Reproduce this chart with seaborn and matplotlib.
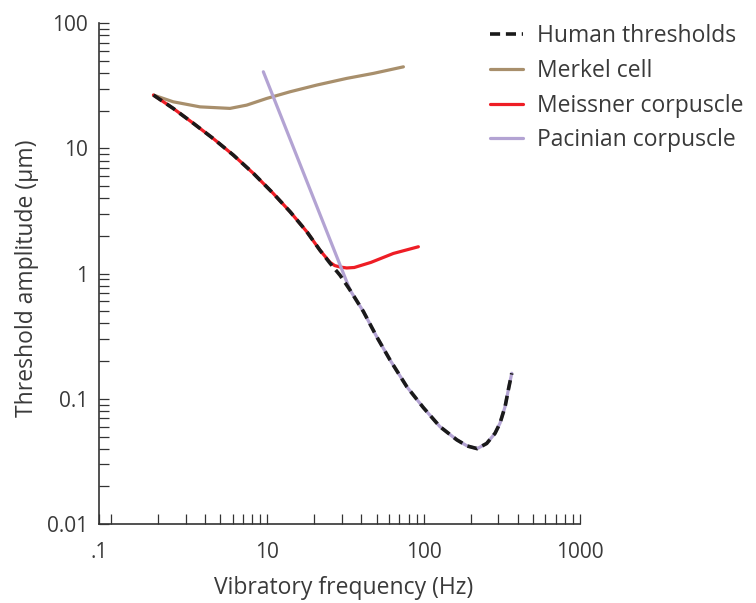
import matplotlib
matplotlib.use("Agg")
import matplotlib.pyplot as plt
import numpy as np
import pandas as pd
import seaborn as sns
from matplotlib.ticker import FixedLocator, FixedFormatter, NullFormatter
from matplotlib.lines import Line2D

# ---- data ----
human_freq = [1.87, 2.5, 3.36, 4.51, 6.06, 8.14, 10.9, 14.0, 17.9, 21.7, 25.2, 29.2, 33.8,
              41.1, 50.1, 61.0, 78.0, 99.6, 127, 163, 190, 220, 253, 286, 308, 332, 348, 366]
human_amp = [26.7, 20.9, 15.9, 12.0, 8.86, 6.33, 4.38, 3.12, 2.16, 1.54, 1.21, 0.97, 0.74,
             0.50, 0.313, 0.204, 0.125, 0.085, 0.060, 0.047, 0.042, 0.040, 0.044, 0.053,
             0.064, 0.087, 0.118, 0.160]

merkel_freq = [1.87, 2.5, 3.71, 5.77, 7.38, 9.91, 14.0, 20.7, 32.2, 47.7, 74.2]
merkel_amp = [26.7, 23.6, 21.5, 20.9, 22.2, 25.1, 28.4, 32.1, 36.3, 39.8, 44.9]

meissner_freq = [1.87, 2.5, 3.36, 4.51, 6.06, 8.14, 10.9, 14.0, 17.9, 21.7, 25.2, 27.0,
                 29.2, 32.2, 36.0, 46.0, 64.0, 92.5]
meissner_amp = [26.7, 20.9, 15.9, 12.0, 8.86, 6.33, 4.38, 3.12, 2.16, 1.54, 1.23, 1.16,
                1.13, 1.11, 1.12, 1.23, 1.45, 1.64]

pacinian_freq = [9.43, 33.8, 41.1, 50.1, 61.0, 78.0, 99.6, 127, 163, 190, 220, 253, 286,
                 308, 332, 348, 366]
pacinian_amp = [41.0, 0.74, 0.50, 0.313, 0.204, 0.125, 0.085, 0.060, 0.047, 0.042, 0.040,
                0.044, 0.053, 0.064, 0.087, 0.118, 0.160]

series_labels = ["Human thresholds", "Merkel cell", "Meissner corpuscle", "Pacinian corpuscle"]

x_major_labels = [".1", "10", "100", "1000"]
y_major = [0.01, 0.1, 1, 10, 100]
y_major_labels = ["0.01", "0.1", "1", "10", "100"]

# ---- style ----
sns.set_theme(style="ticks")
plt.rcParams["font.family"] = ["Open Sans", "DejaVu Sans"]
TXT = "#3a3a3a"

fig = plt.figure(figsize=(7.56, 6.03), dpi=100)
ax = fig.add_axes([99.3 / 756, 79 / 603, (580 - 99.3) / 756, (524 - 23.3) / 603])

colors = {"Human thresholds": "#1a1a1a", "Merkel cell": "#a88f6c",
          "Meissner corpuscle": "#ee1d25", "Pacinian corpuscle": "#b3a3d3"}

df_merkel = pd.DataFrame({"f": merkel_freq, "a": merkel_amp})
df_meiss = pd.DataFrame({"f": meissner_freq, "a": meissner_amp})
df_pac = pd.DataFrame({"f": pacinian_freq, "a": pacinian_amp})
df_human = pd.DataFrame({"f": human_freq, "a": human_amp})

sns.lineplot(data=df_merkel, x="f", y="a", ax=ax, color=colors["Merkel cell"], lw=2.3, zorder=2)
sns.lineplot(data=df_meiss, x="f", y="a", ax=ax, color=colors["Meissner corpuscle"], lw=2.3, zorder=3)
sns.lineplot(data=df_pac, x="f", y="a", ax=ax, color=colors["Pacinian corpuscle"], lw=2.3, zorder=4)
sns.lineplot(data=df_human, x="f", y="a", ax=ax, color=colors["Human thresholds"], lw=2.6,
             zorder=5)
for ln in ax.lines:
    ln.set_solid_joinstyle("round")
    ln.set_dash_joinstyle("round")
ax.lines[-1].set_dashes((2.8, 1.6))

ax.set_xscale("log")
ax.set_yscale("log")
XMIN = 0.842
ax.set_xlim(XMIN, 1000)
ax.set_ylim(0.01, 100)

ax.xaxis.set_major_locator(FixedLocator([XMIN, 10, 100, 1000]))
ax.xaxis.set_major_formatter(FixedFormatter(x_major_labels))
xminor = [1] + [m * d for d in (1, 10, 100) for m in range(2, 10)]
ax.xaxis.set_minor_locator(FixedLocator(xminor))
ax.xaxis.set_minor_formatter(NullFormatter())

ax.yaxis.set_major_locator(FixedLocator(y_major))
ax.yaxis.set_major_formatter(FixedFormatter(y_major_labels))
yminor = [m * d for d in (0.01, 0.1, 1, 10) for m in range(2, 10)]
ax.yaxis.set_minor_locator(FixedLocator(yminor))
ax.yaxis.set_minor_formatter(NullFormatter())

for s in ["top", "right"]:
    ax.spines[s].set_visible(False)
for s in ["left", "bottom"]:
    ax.spines[s].set_linewidth(1.2)
    ax.spines[s].set_color("#333333")

ax.tick_params(which="both", direction="in", length=7, width=0.9, color="#333333")
ax.tick_params(axis="x", which="major", pad=13, labelsize=15, labelcolor=TXT)
ax.tick_params(axis="y", which="major", pad=8, labelsize=15, labelcolor=TXT)

ax.set_xlabel("Vibratory frequency (Hz)", fontsize=16.5, color=TXT)
ax.set_ylabel("Threshold amplitude (µm)", fontsize=16.5, color=TXT)
ax.xaxis.set_label_coords((344 - 99.3) / 480.7, -(576 - 524) / 500.7)
ax.yaxis.set_label_coords(-(99.3 - 39) / 480.7, (524 - 278.5) / 500.7)

handles = [
    Line2D([], [], color=colors["Human thresholds"], lw=2.6, dashes=(2.8, 1.6)),
    Line2D([], [], color=colors["Merkel cell"], lw=2.3),
    Line2D([], [], color=colors["Meissner corpuscle"], lw=2.3),
    Line2D([], [], color=colors["Pacinian corpuscle"], lw=2.3),
]
leg = fig.legend(handles, series_labels, loc="upper left",
                 bbox_to_anchor=(490 / 756, 1 - 24 / 603), frameon=False,
                 fontsize=16.5, handlelength=1.45, handletextpad=0.6, labelspacing=0.47,
                 borderpad=0, borderaxespad=0)
for t in leg.get_texts():
    t.set_color(TXT)

fig.savefig("out.png", dpi=100)
